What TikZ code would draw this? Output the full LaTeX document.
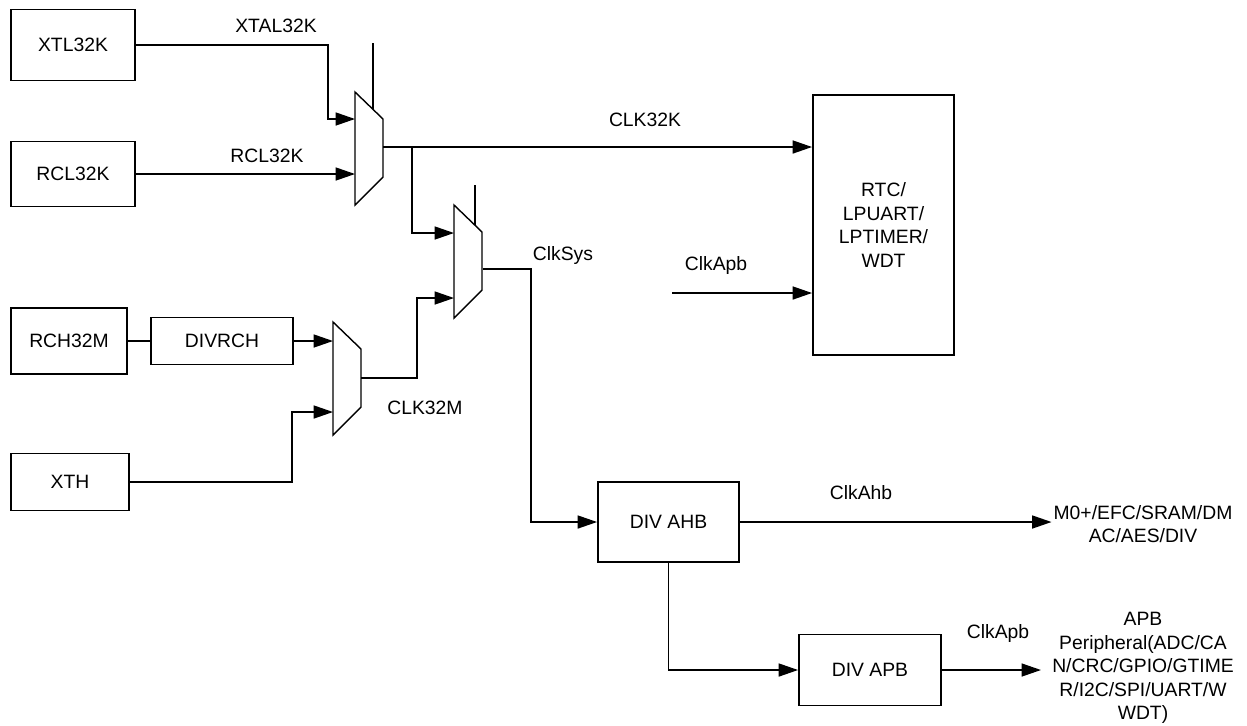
\documentclass[tikz,border=0pt]{standalone}
\usepackage{fontspec}
\setmainfont{Liberation Sans}
\usetikzlibrary{arrows.meta, positioning, calc}
\tikzset{
    mux/.pic = {
    \draw[line width=0.8pt] (0,0) -- (28,27) -- (28,85) -- (0,113) -- cycle;
    },
    blk/.style={draw, line width=1.1pt, inner sep=0pt, font=\fontsize{11}{13.3}\selectfont},
    lbl/.style={inner sep=1pt, font=\fontsize{11}{13.3}\selectfont},
    wire/.style={line width=0.8pt},
    sig/.style={wire, -{Triangle[length=11pt, width=7.4pt]}},
}

\begin{document}
\begin{tikzpicture}[x=0.02cm, y=-0.02cm]
    \useasboundingbox (0,0) rectangle (1247,725);

    \node[blk, minimum width=2.48cm, minimum height=1.42cm] (xtl) at (73,45) {XTL32K};
    \node[blk, minimum width=2.48cm, minimum height=1.30cm] (rcl) at (73,174) {RCL32K};
    \node[blk, minimum width=2.32cm, minimum height=1.32cm] (rch) at (69,341) {RCH32M};
    \node[blk, minimum width=2.84cm, minimum height=0.94cm] (divrch) at (222,341) {DIVRCH};
    \node[blk, minimum width=2.36cm, minimum height=1.14cm] (xth) at (70,482) {XTH};
    \node[blk, minimum width=2.82cm, minimum height=5.20cm] (rtc) at (883.5,225)
      [align=center] {RTC/\\LPUART/\\LPTIMER/\\WDT};
    \node[blk, minimum width=2.82cm, minimum height=1.60cm] (ahb) at (668.5,522) {DIV AHB};
    \node[blk, minimum width=2.84cm, minimum height=1.42cm] (apb) at (870,670) {DIV APB};

    \pic at (355,92) {mux};
    \pic at (454,205) {mux};
    \pic at (333,322) {mux};
    \draw[wire] (373,43) -- (373,109.4);
    \draw[wire] (475,185) -- (475,225.3);

    \coordinate (m1a) at (355,119);
    \coordinate (m1b) at (355,174);
    \coordinate (m1o) at (383,147);
    \coordinate (m2a) at (454,233);
    \coordinate (m2b) at (454,298);
    \coordinate (m2o) at (483,269);
    \coordinate (m3a) at (333,341);
    \coordinate (m3b) at (333,412);
    \coordinate (m3o) at (361,378);
    \coordinate (br) at (412,147);
    \coordinate (apbin) at (672,293);

    \node[lbl, align=center] (mcu) at (1143,524) {M0+/EFC/SRAM/DM\\AC/AES/DIV};
    \node[lbl, align=center] (periph) at (1143,668)
      {APB\\Peripheral(ADC/CA\\N/CRC/GPIO/GTIME\\R/I2C/SPI/UART/W\\WDT)};

    \draw[sig] (xtl.east) -- ++(192,0) |- (m1a);
    \draw[sig] (rcl.east) -- (m1b);
    \draw[sig] (m1o) -- (m1o -| rtc.west);
    \draw[sig] (br) |- (m2a);
    \draw[wire] (rch.east) -- (divrch.west);
    \draw[sig] (divrch.east) -- (m3a);
    \draw[sig] (xth.east) -- ++(162,0) |- (m3b);
    \draw[sig] (m3o) -- ++(56,0) |- (m2b);
    \draw[sig] (m2o) -- ++(48,0) |- (ahb.west);
    \draw[sig] (apbin) -- (apbin -| rtc.west);
    \draw[sig] (ahb.east) -- (ahb.east -| mcu.west);
    \draw[sig] (ahb.south) |- (apb.west);
    \draw[sig] (apb.east) -- ++(99,0);

    \node[lbl] (lxtal) at (276,26) {XTAL32K};
    \node[lbl] (lrcl) at (267,156) {RCL32K};
    \node[lbl] (lclk32k) at (645,120) {CLK32K};
    \node[lbl] (lsys) at (563,255) {ClkSys};
    \node[lbl] (lapb1) at (716,265) {ClkApb};
    \node[lbl] (lclk32m) at (425,408) {CLK32M};
    \node[lbl] (lahb) at (861,493) {ClkAhb};
    \node[lbl] (lapb2) at (998,633) {ClkApb};
  \end{tikzpicture}
\end{document}
